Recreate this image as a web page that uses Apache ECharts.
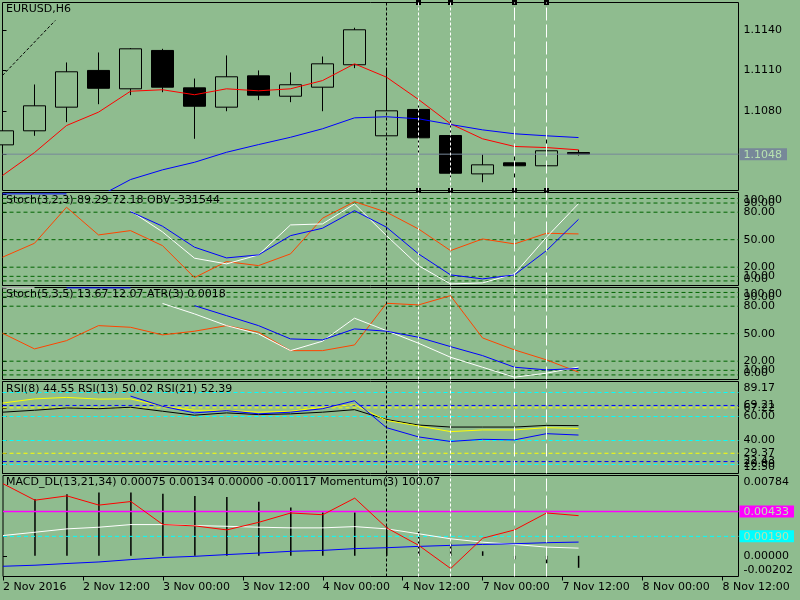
<!DOCTYPE html>
<html>
<head>
<meta charset="utf-8">
<script src="https://cdn.jsdelivr.net/npm/echarts@6/dist/echarts.min.js"></script>
<style>
  html, body { margin: 0; padding: 0; background: #8fbc8f; }
  #chart { width: 800px; height: 600px; }
</style>
</head>
<body>
<div id="chart"></div>
<script>
// x axis: one unit per H6 bar, time labels every 2.5 bars
const TIME_STEP = 2.5
const X_MAX = 23
const timeLabels = ['2 Nov 2016', '2 Nov 12:00', '3 Nov 00:00', '3 Nov 12:00', '4 Nov 00:00',
  '4 Nov 12:00', '7 Nov 00:00', '7 Nov 12:00', '8 Nov 00:00', '8 Nov 12:00']

// EURUSD H6 candles
const opens  = [1.10548, 1.10652, 1.10827, 1.11099, 1.10963, 1.11247, 1.10970, 1.10827, 1.11059, 1.10908,
  1.10975, 1.11141, 1.10615, 1.10810, 1.10617, 1.10333, 1.10415, 1.10393, 1.10491]
const closes = [1.10652, 1.10837, 1.11089, 1.10967, 1.11259, 1.10975, 1.10834, 1.11052, 1.10916, 1.10993,
  1.11148, 1.11400, 1.10800, 1.10600, 1.10338, 1.10400, 1.10393, 1.10504, 1.10479]
const lows   = [1.10548, 1.10615, 1.10716, 1.10849, 1.10916, 1.10938, 1.10593, 1.10797, 1.10879, 1.10864,
  1.10797, 1.11116, 1.10615, 1.10481, 1.10308, 1.10271, 1.10304, 1.10382, 1.10469]
const highs  = [1.10652, 1.10995, 1.11158, 1.11232, 1.11265, 1.11259, 1.11039, 1.11210, 1.11099, 1.11084,
  1.11202, 1.11415, 1.11111, 1.10856, 1.10741, 1.10476, 1.10506, 1.10676, 1.10511]
const maFast = [1.10321, 1.10491, 1.10691, 1.10790, 1.10945, 1.10956, 1.10919, 1.10963, 1.10948, 1.10963,
  1.11024, 1.11148, 1.11049, 1.10884, 1.10704, 1.10593, 1.10536, 1.10528, 1.10511]
const maSlow = [null, null, null, 1.10165, 1.10291, 1.10363, 1.10419, 1.10493, 1.10550, 1.10604,
  1.10667, 1.10748, 1.10756, 1.10741, 1.10699, 1.10659, 1.10630, 1.10615, 1.10602]
const trendX = [0, 1.65]
const trendY = [1.11062, 1.11469]
const priceLabels = [1.1080, 1.1110, 1.1140]
const lastPrice = closes[closes.length - 1]

// Stoch(3,2,3) + OBV
const stoch1Obv = [30.9, 46.1, 85.4, 55.2, 59.9, 43.5, 8.6, 26.1, 21.7, 34.5, 73.4, 91.5, 80, 61.7, 38.1, 50.8, 45.4, 57, 56.3]
const stoch1Main = [null, null, null, null, 81.4, 58.5, 29.8, 23.6, 33.4, 66.1, 67.2, 89, 54.4, 21.7, 1.7, 2.8, 12.7, 52.7, 89.29]
const stoch1Signal = [100, 100, 100, null, 80.6, 64.7, 41.8, 30.1, 33.4, 54.4, 62.5, 81.7, 63.6, 34.5, 11.6, 7.2, 11.6, 38.1, 72.18]

// Stoch(5,3,5) + ATR
const stoch2Atr = [50.5, 33.4, 42.4, 58.8, 57, 48.7, 52.7, 58.8, 51.6, 31.5, 31.5, 37.7, 83.2, 81.4, 91.5, 45.4, 32.3, 21.4, 8]
const stoch2Main = [100, 100, null, null, null, 83, 71.6, 58.8, 49.7, 31.5, 41.8, 66.9, 53.3, 39.6, 24.3, 13.4, 2.5, 6.9, 13.67]
const stoch2Signal = [null, null, 100, 100, 100, null, 80.6, 69.7, 58.8, 44.3, 43.2, 55.2, 52.7, 46.1, 35.9, 26.1, 13.4, 10.5, 12.07]
const stochLevels = [95, 90, 80, 50, 20, 10, 5]
const stochLabels = [100, 95, 90, 80, 50, 20, 10, 5, 0]

// RSI(8), RSI(13), RSI(21)
const rsi8 = [null, null, null, null, 77, 68.5, 63, 64.9, 62.2, 63.6, 66.5, 73.1, 50.7, 43, 39.2, 41, 40.5, 45.7, 44.55]
const rsi13 = [71.2, 74.7, 75.9, 74.5, 74.7, 68.5, 65.2, 65.2, 63.6, 64.4, 67.7, 69.8, 56.7, 52.1, 47.4, 48.8, 48.8, 50.7, 50.02]
const rsi21 = [63.6, 65.2, 67.1, 66.5, 67.7, 64.4, 61.1, 63, 61.6, 62.2, 63.6, 65.7, 57.5, 52.9, 51.2, 51.2, 51.2, 52.6, 52.39]
const rsiCyanLevels = [80, 60, 40, 20]
const rsiBlueLevels = [69.21, 22.43]
const rsiYellowLevels = [67.22, 29.37]

// MACD_DL(13,21,34) + Momentum(3)
const macdHist = [null, 0.00553, 0.00601, 0.00617, 0.00617, 0.00607, 0.00585, 0.00575, 0.00527, 0.00472,
  0.00424, 0.00424, 0.00285, 0.00237, 0.00118, 0.00044, -0.00034, -0.00073, -0.00117]
const momentum = [0.00704, 0.00543, 0.00585, 0.00495, 0.00530, 0.00305, 0.00292, 0.00253, 0.00327, 0.00418,
  0.00401, 0.00563, 0.00273, 0.00102, -0.00124, 0.00172, 0.00253, 0.00418, 0.00392]
const macdWhite = [0.00198, 0.00230, 0.00263, 0.00279, 0.00305, 0.00305, 0.00295, 0.00288, 0.00279, 0.00273,
  0.00273, 0.00285, 0.00263, 0.00215, 0.00166, 0.00133, 0.00111, 0.00085, 0.00075]
const macdBlue = [-0.00102, -0.00092, -0.00075, -0.00060, -0.00037, -0.00017, -0.00005, 0.00012, 0.00027, 0.00044,
  0.00053, 0.00070, 0.00079, 0.00092, 0.00102, 0.00111, 0.00118, 0.00128, 0.00134]
const macdMagentaLevel = 0.00433
const macdCyanLevel = 0.00190
const macdLabels = [0.00784, 0.00433, 0.00190, 0, -0.00202]

// vertical objects (bar index) and which ones are selected
const vLineX = [12, 13, 14, 16, 17]
const handleX = [13, 14, 16, 17]

const paneTitles = [
  'EURUSD,H6',
  'Stoch(3,2,3) 89.29 72.18 OBV -331544',
  'Stoch(5,3,5) 13.67 12.07 ATR(3) 0.0018',
  'RSI(8) 44.55 RSI(13) 50.02 RSI(21) 52.39',
  'MACD_DL(13,21,34) 0.00075 0.00134 0.00000 -0.00117 Momentum(3) 100.07',
]

const font = 'DejaVu Sans'
const bg = '#8fbc8f'
const boxText = '#b8e2b0'

const vLineStyles = [
  { color: '#000', type: [3, 2], width: 1 },
  { color: '#fff', type: [3, 2], width: 1 },
  { color: '#fff', type: [3, 2], width: 1 },
  { color: '#fff', type: [13, 4], width: 1 },
  { color: '#fff', type: [13, 4], width: 1 },
]

const paneBox = [
  { top: 2.5, height: 188, min: 1.10210, max: 1.11602 },
  { top: 192.5, height: 93, min: 0, max: 101.5 },
  { top: 287.5, height: 92, min: 0, max: 100.4 },
  { top: 381.5, height: 92, min: 12.5, max: 89.1667 },
  { top: 475.5, height: 101, min: -0.00202, max: 0.00784 },
]
const titleTops = [4, 195, 289, 384, 477]

const idx = arr => arr.map((v, i) => [i, v])

function lineSeries(pane, data, color, extra) {
  return Object.assign({
    type: 'line', xAxisIndex: pane, yAxisIndex: pane, data: idx(data),
    symbol: 'none', silent: true, animation: false, connectNulls: false, clip: true,
    lineStyle: { color, width: 1 },
  }, extra || {})
}

// horizontal level lines, one flat line series per level
function levelSeries(pane, levels, color, solid, width) {
  return levels.map(v => ({
    type: 'line', xAxisIndex: pane, yAxisIndex: pane,
    data: [[0, v], [X_MAX, v]],
    symbol: 'none', silent: true, animation: false, clip: true,
    itemStyle: { color },
    lineStyle: { color, width: width || 1, opacity: 1, type: solid ? 'solid' : [4, 3] },
  }))
}

function vMarks() {
  return {
    silent: true, symbol: 'none', animation: false, precision: 8, z: 6,
    label: { show: false },
    data: vLineX.map((x, i) => ({ xAxis: x, lineStyle: vLineStyles[i] })),
  }
}

const labelRich = {
  n: { padding: [0, 0, 0, 4], fontFamily: font, fontSize: 11, color: '#000' },
  hi: { padding: [13, 0, 0, 4], fontFamily: font, fontSize: 11, color: '#000' },
  lo: { padding: [0, 0, 13, 4], fontFamily: font, fontSize: 11, color: '#000' },
  px: { backgroundColor: '#778899', color: boxText, padding: [1, 5, 0, 4], fontFamily: font, fontSize: 11, lineHeight: 13 },
  mag: { backgroundColor: '#ff00ff', color: boxText, padding: [1, 5, 0, 4], fontFamily: font, fontSize: 11, lineHeight: 13 },
  cya: { backgroundColor: '#00ffff', color: boxText, padding: [1, 5, 0, 4], fontFamily: font, fontSize: 11, lineHeight: 13 },
}

function yAxisFor(pane, values, digits, boxes) {
  const p = paneBox[pane]
  const px = v => (v - p.min) / (p.max - p.min) * p.height
  return {
    type: 'value', gridIndex: pane, position: 'right', min: p.min, max: p.max,
    splitLine: { show: false },
    axisLine: { show: false },
    axisTick: { show: true, length: 4, customValues: values, lineStyle: { color: '#000' } },
    axisLabel: {
      customValues: values, margin: 1, color: '#000', fontFamily: font, fontSize: 11,
      hideOverlap: false, showMinLabel: true, showMaxLabel: true,
      formatter: v => {
        const s = v.toFixed(digits)
        if (boxes && boxes[s]) return '{' + boxes[s] + '|' + s + '}'
        if (pane > 0 && p.height - px(v) < 7) return '{hi|' + s + '}'
        if (pane > 0 && px(v) < 7) return '{lo|' + s + '}'
        return '{n|' + s + '}'
      },
      rich: labelRich,
    },
  }
}

const grids = paneBox.map(p => ({
  left: 2.5, right: 61.5, top: p.top, height: p.height,
  show: true, borderColor: '#000', borderWidth: 1, backgroundColor: 'transparent',
}))

const xAxes = paneBox.map((p, i) => ({
  type: 'value', gridIndex: i, min: 0, max: X_MAX, interval: TIME_STEP,
  show: i === 4,
  splitLine: { show: false },
  axisLine: { show: false, onZero: false },
  axisTick: { show: true, length: 4, lineStyle: { color: '#000' } },
  axisLabel: {
    align: 'left', margin: 5, color: '#000', fontFamily: font, fontSize: 11, showMaxLabel: false,
    formatter: v => {
      const n = v / TIME_STEP
      return Math.abs(n - Math.round(n)) < 1e-6 ? (timeLabels[Math.round(n)] || '') : ''
    },
  },
}))

const priceBoxes = {}
priceBoxes[lastPrice.toFixed(4)] = 'px'
const macdBoxes = {}
macdBoxes[macdMagentaLevel.toFixed(5)] = 'mag'
macdBoxes[macdCyanLevel.toFixed(5)] = 'cya'

const yAxes = [
  yAxisFor(0, priceLabels.concat([lastPrice]), 4, priceBoxes),
  yAxisFor(1, stochLabels, 2),
  yAxisFor(2, stochLabels, 2),
  yAxisFor(3, [paneBox[3].max].concat(rsiCyanLevels, rsiBlueLevels, rsiYellowLevels, [paneBox[3].min]), 2),
  yAxisFor(4, macdLabels, 5, macdBoxes),
]

const series = [
  // main pane
  ...levelSeries(0, [lastPrice], '#778899', true),
  {
    type: 'candlestick', xAxisIndex: 0, yAxisIndex: 0, barWidth: 22, silent: true, animation: false, clip: true,
    data: opens.map((o, i) => [i, o, closes[i], lows[i], highs[i]]),
    encode: { x: 0, y: [1, 2, 3, 4] },
    itemStyle: { color: bg, color0: '#000', borderColor: '#000', borderColor0: '#000', borderWidth: 1 },
  },
  lineSeries(0, trendY, '#000', {
    data: trendX.map((x, i) => [x, trendY[i]]),
    lineStyle: { color: '#000', width: 1, type: [3, 2] },
    markLine: {
      silent: true, animation: false, precision: 8, z: 5, symbol: ['rect', 'rect'], symbolSize: 5,
      label: { show: false },
      lineStyle: { color: '#000', width: 0 },
      data: handleX.map(x => ({ xAxis: x })),
    },
  }),
  lineSeries(0, maFast, '#ff0000'),
  lineSeries(0, maSlow, '#0000ff', { markLine: vMarks() }),

  // stoch 1
  ...levelSeries(1, stochLevels, '#006400'),
  lineSeries(1, stoch1Obv, '#ff4500'),
  lineSeries(1, stoch1Main, '#ffffff'),
  lineSeries(1, stoch1Signal, '#0000ff', { markLine: vMarks() }),

  // stoch 2
  ...levelSeries(2, stochLevels, '#006400'),
  lineSeries(2, stoch2Atr, '#ff4500'),
  lineSeries(2, stoch2Main, '#ffffff'),
  lineSeries(2, stoch2Signal, '#0000ff', { markLine: vMarks() }),

  // RSI
  ...levelSeries(3, rsiCyanLevels, '#00ffff'),
  ...levelSeries(3, rsiBlueLevels, '#0000ff'),
  ...levelSeries(3, rsiYellowLevels, '#ffff00'),
  lineSeries(3, rsi21, '#000000'),
  lineSeries(3, rsi13, '#ffff00'),
  lineSeries(3, rsi8, '#0000ff', { markLine: vMarks() }),

  // MACD
  ...levelSeries(4, [macdMagentaLevel], '#ff00ff', true, 1.5),
  ...levelSeries(4, [macdCyanLevel], '#00ffff'),
  {
    type: 'bar', xAxisIndex: 4, yAxisIndex: 4, barWidth: 1.5, silent: true, animation: false,
    data: idx(macdHist), itemStyle: { color: '#000' },
  },
  lineSeries(4, macdWhite, '#ffffff'),
  lineSeries(4, macdBlue, '#0000ff'),
  lineSeries(4, momentum, '#ff0000', { markLine: vMarks() }),
]

const chart = echarts.init(document.getElementById('chart'))
chart.setOption({
  backgroundColor: bg,
  animation: false,
  title: paneTitles.map((t, i) => ({
    text: t, left: 6, top: titleTops[i], padding: 0,
    textStyle: { fontFamily: font, fontSize: 11, fontWeight: 'normal', color: '#000' },
  })),
  grid: grids,
  xAxis: xAxes,
  yAxis: yAxes,
  series,
})
</script>
</body>
</html>
